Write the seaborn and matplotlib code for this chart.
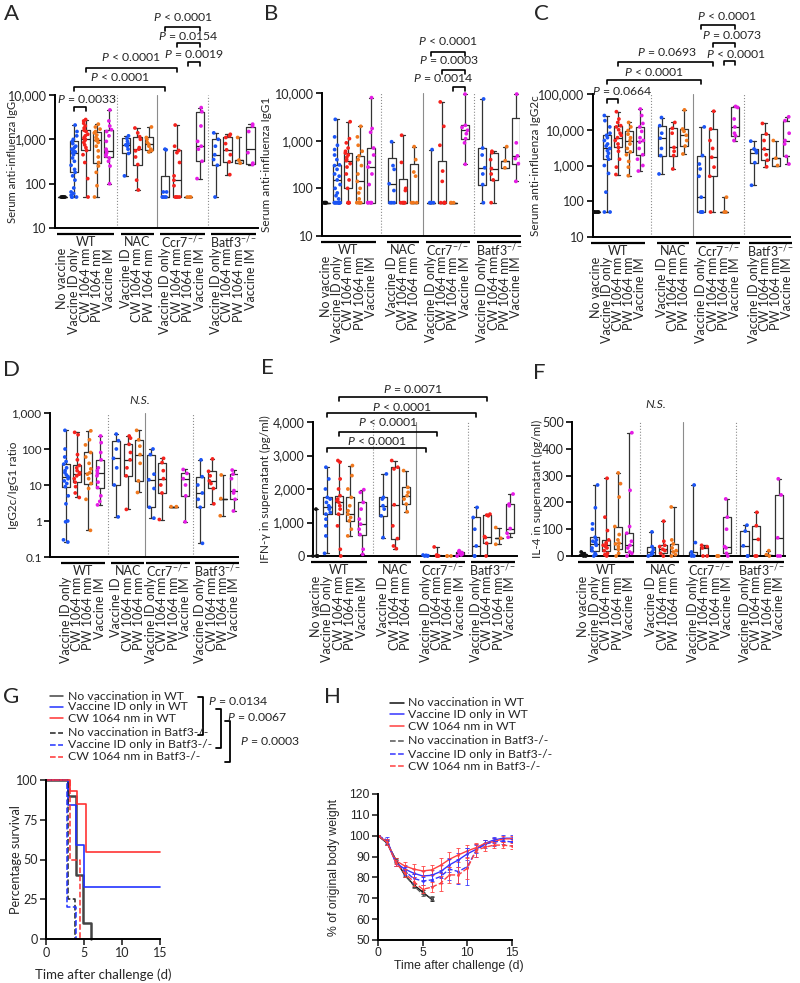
import numpy as np
import pandas as pd
import matplotlib
matplotlib.use("Agg")
import matplotlib.pyplot as plt
import seaborn as sns
from matplotlib.lines import Line2D
from matplotlib.ticker import NullLocator
from matplotlib.transforms import ScaledTranslation

np.random.seed(3)

# ---------------------------------------------------------------
# categories shared by panels A-F
# ---------------------------------------------------------------
cat_labels = ["No vaccine", "Vaccine ID only", "CW 1064 nm", "PW 1064 nm", "Vaccine IM",
              "Vaccine ID", "CW 1064 nm", "PW 1064 nm",
              "Vaccine ID only", "CW 1064 nm", "PW 1064 nm", "Vaccine IM",
              "Vaccine ID only", "CW 1064 nm", "PW 1064 nm", "Vaccine IM"]
cat_kinds = ["none", "id", "cw", "pw", "im", "id", "cw", "pw",
             "id", "cw", "pw", "im", "id", "cw", "pw", "im"]
group_names = ["WT", "NAC", "Ccr7$^{-/-}$", "Batf3$^{-/-}$"]
group_sizes = [5, 3, 4, 4]
group_sizes_d = [4, 3, 4, 4]
kind_colors = {"none": "#111111", "id": "#1b54f5", "cw": "#f5221d",
               "pw": "#f0781e", "im": "#e51be5"}

# ---------------------------------------------------------------
# A: serum anti-influenza IgG
# ---------------------------------------------------------------
a_lo = [50, 50, 50, 50, 100, 150, 72, 520, 50, 50, 50, 130, 50, 160, 290, 270]
a_q1 = [50, 180, 560, 300, 400, 480, 270, 560, 50, 50, 50, 320, 260, 310, 300, 280]
a_med = [50, 500, 1000, 950, 550, 750, 600, 780, 50, 120, 50, 700, 450, 580, 340, 600]
a_q3 = [50, 900, 1600, 1500, 1650, 1050, 1150, 1100, 150, 560, 50, 4200, 1000, 1100, 340, 1900]
a_hi = [50, 2100, 2800, 2200, 4600, 1200, 1800, 1900, 600, 2100, 50, 5200, 1400, 1300, 1100, 2200]
a_pts = [
    [50, 50, 50, 50, 50],
    [50, 50, 50, 55, 60, 65, 80, 120, 150, 180, 210, 260, 320, 380, 450, 500, 520, 550,
     600, 650, 700, 800, 900, 1000, 1200, 1500, 2100],
    [50, 130, 300, 450, 560, 650, 750, 850, 950, 1000, 1050, 1100, 1200, 1300, 1500,
     1600, 1800, 2000, 2300, 2600, 2800],
    [50, 90, 180, 250, 300, 400, 550, 700, 850, 950, 1000, 1100, 1250, 1400, 1500, 1700,
     1900, 2200],
    [100, 250, 320, 380, 420, 450, 500, 550, 600, 900, 1200, 1500, 1650, 2000, 2600, 4600],
    [150, 480, 600, 700, 750, 800, 900, 1050, 1200],
    [72, 120, 270, 400, 550, 600, 650, 1000, 1150, 1400, 1800],
    [520, 560, 600, 700, 780, 850, 1000, 1100, 1900],
    [50, 50, 50, 50, 65, 65, 580, 600],
    [50, 50, 50, 50, 90, 120, 150, 300, 500, 560, 700, 2100],
    [50, 50, 50],
    [130, 320, 600, 700, 900, 2000, 4200, 5200],
    [50, 260, 350, 450, 700, 1000, 1400],
    [160, 310, 450, 580, 800, 1100, 1200, 1300],
    [290, 340, 1100],
    [270, 290, 500, 1500, 2000, 2200],
]

# ---------------------------------------------------------------
# B: serum anti-influenza IgG1
# ---------------------------------------------------------------
b_lo = [50, 50, 50, 50, 50, 50, 50, 50, 50, 50, 50, 320, 50, 50, 270, 140]
b_q1 = [50, 50, 100, 50, 50, 50, 50, 50, 50, 50, 50, 1100, 120, 150, 270, 330]
b_med = [50, 150, 380, 140, 280, 125, 50, 50, 50, 50, 50, 1650, 270, 260, 380, 480]
b_q3 = [50, 310, 550, 480, 700, 440, 160, 330, 50, 370, 50, 2100, 700, 560, 380, 3000]
b_hi = [50, 2800, 2500, 2000, 8000, 950, 1300, 750, 650, 6500, 50, 9500, 7500, 600, 750, 9500]
b_pts = [
    [50, 50, 50, 50, 50],
    [50, 50, 50, 50, 50, 50, 50, 50, 50, 50, 50, 50, 60, 70, 80, 100, 120, 150, 180,
     200, 250, 300, 310, 400, 500, 650, 800, 1200, 2800],
    [50, 50, 50, 50, 100, 150, 200, 280, 330, 380, 400, 450, 500, 550, 600, 700, 900,
     1100, 2500],
    [50, 50, 50, 50, 60, 80, 100, 140, 200, 300, 400, 480, 600, 800, 1200, 2000],
    [50, 50, 50, 50, 50, 120, 200, 280, 350, 500, 700, 1500, 1800, 8000],
    [50, 50, 50, 90, 125, 250, 300, 950],
    [50, 50, 50, 50, 50, 90, 100, 350, 1300],
    [50, 50, 50, 180, 220, 400, 750],
    [50, 50, 50, 50, 650],
    [50, 50, 50, 50, 50, 140, 230, 800, 2000, 6500],
    [50, 50, 50],
    [320, 900, 1100, 1400, 1650, 1900, 2100, 9500],
    [50, 120, 200, 270, 500, 700, 7500],
    [50, 150, 200, 260, 400, 560, 600],
    [270, 380, 750],
    [140, 330, 420, 480, 900, 9500],
]

# ---------------------------------------------------------------
# C: serum anti-influenza IgG2c
# ---------------------------------------------------------------
c_lo = [50, 50, 560, 520, 700, 580, 800, 2100, 50, 50, 50, 5000, 280, 920, 1000, 1100]
c_q1 = [50, 1500, 3200, 2400, 2000, 1900, 1900, 3500, 50, 500, 50, 6800, 1200, 1400, 1000, 1800]
c_med = [50, 3000, 6000, 5000, 5000, 5800, 3200, 7000, 130, 1700, 50, 12000, 2300, 2900, 1600, 5000]
c_q3 = [50, 7000, 13000, 9500, 12000, 13000, 11000, 10500, 1900, 10500, 50, 42000, 2900, 7600,
        1600, 18000]
c_hi = [50, 25000, 32000, 16000, 38000, 22000, 16000, 36000, 12000, 33000, 130, 45000, 4800,
        15000, 5000, 23000]
c_pts = [
    [50, 50, 50, 50, 50],
    [50, 50, 180, 600, 1000, 1500, 1800, 2200, 2600, 3000, 3500, 4000, 5000, 6000, 7000,
     8000, 12000, 18000, 25000],
    [560, 900, 1500, 2500, 3200, 4000, 5000, 6000, 7000, 8000, 10000, 12000, 13000, 16000,
     20000, 32000],
    [520, 900, 1300, 2000, 2400, 3000, 4000, 5000, 6000, 7500, 9500, 12000, 16000],
    [700, 1000, 1500, 2000, 3000, 4500, 5000, 6000, 9000, 12000, 15000, 25000, 38000],
    [580, 1900, 3000, 5800, 8000, 13000, 22000],
    [800, 1900, 2500, 3200, 8000, 11000, 16000],
    [2100, 3500, 5000, 7000, 9000, 10500, 36000],
    [50, 50, 50, 130, 500, 800, 1100, 1900, 12000],
    [50, 500, 900, 1700, 3000, 5000, 10500, 33000],
    [50, 50, 130],
    [5000, 6800, 8000, 12000, 20000, 42000, 45000],
    [280, 1200, 2300, 2600, 2900, 4800],
    [920, 1400, 2000, 2900, 5000, 7600, 15000],
    [1000, 1600, 5000],
    [1100, 1800, 4000, 5000, 8000, 18000, 23000],
]

# ---------------------------------------------------------------
# D: IgG2c / IgG1 ratio (no "No vaccine" group)
# ---------------------------------------------------------------
d_lo = [0.26, 4.5, 0.55, 2.8, 1.3, 2.1, 6.2, 1.2, 1.1, 2.5, 0.95, 0.24, 3, 1.4, 1.9]
d_q1 = [9, 12, 11, 8.5, 10, 18, 13, 2.4, 6, 2.5, 5, 2.4, 8, 4.2, 4]
d_med = [17, 20, 22, 21, 55, 50, 70, 14, 15, 2.5, 15, 6, 13, 4.2, 7]
d_q3 = [38, 35, 80, 50, 170, 135, 180, 70, 42, 2.5, 21, 17, 24, 4.2, 20]
d_hi = [330, 290, 320, 230, 260, 230, 330, 100, 55, 2.5, 27, 50, 53, 19, 26]
d_pts = [
    [0.26, 0.3, 0.95, 1, 3, 5, 9, 11, 13, 15, 17, 19, 22, 25, 30, 38, 45, 60, 100, 330],
    [4.5, 6, 9, 12, 15, 18, 20, 22, 25, 30, 35, 50, 70, 250, 290],
    [0.55, 4, 8, 11, 15, 20, 22, 28, 40, 60, 80, 130, 180, 320],
    [2.8, 3.5, 5, 8.5, 12, 18, 21, 25, 30, 50, 80, 150, 230],
    [1.3, 10, 30, 55, 100, 170, 260],
    [2.1, 18, 30, 50, 80, 135, 200, 230],
    [6.2, 13, 40, 70, 120, 180, 330],
    [1.2, 2.4, 8, 14, 20, 70, 100],
    [1.1, 6, 10, 15, 25, 42, 55],
    [2.5, 2.5],
    [0.95, 5, 10, 15, 21, 27],
    [0.24, 2.4, 4, 6, 10, 17, 50],
    [3, 8, 11, 13, 18, 24, 53],
    [1.4, 4.2, 19],
    [1.9, 4, 6, 7, 15, 20, 26],
]

# ---------------------------------------------------------------
# E: IFN-gamma in supernatant (pg/ml)
# ---------------------------------------------------------------
e_lo = [0, 80, 0, 600, 50, 550, 220, 1320, 0, 0, 0, 0, 0, 0, 350, 560]
e_q1 = [0, 1250, 1250, 1050, 640, 1200, 520, 1550, 0, 0, 0, 30, 0, 380, 530, 680]
e_med = [0, 1450, 1600, 1250, 950, 1500, 1530, 1800, 10, 10, 0, 80, 300, 580, 530, 820]
e_q3 = [0, 1750, 1800, 1750, 1600, 1750, 2650, 2050, 20, 30, 0, 130, 1150, 1220, 530, 1550]
e_hi = [1400, 2650, 2850, 2700, 1980, 2450, 2850, 2550, 30, 270, 0, 160, 1450, 1250, 850, 1850]
e_pts = [
    [0, 0, 0, 0, 1400],
    [80, 600, 900, 1100, 1250, 1300, 1400, 1450, 1500, 1600, 1700, 1750, 2000, 2300, 2650],
    [0, 200, 900, 1250, 1400, 1500, 1600, 1650, 1700, 1800, 2000, 2300, 2800, 2850],
    [600, 800, 1050, 1150, 1250, 1350, 1500, 1750, 2000, 2400, 2700],
    [50, 200, 640, 800, 950, 1100, 1400, 1600, 1900, 1980],
    [550, 1200, 1400, 1500, 1700, 1750, 2450],
    [220, 300, 520, 900, 1530, 2600, 2650, 2850],
    [1320, 1550, 1700, 1800, 1900, 2050, 2550],
    [0, 0, 10, 20, 30],
    [0, 0, 0, 10, 30, 270],
    [0, 0, 0],
    [0, 30, 60, 80, 100, 130, 160],
    [0, 0, 300, 800, 1150, 1450],
    [0, 380, 550, 580, 1200, 1220, 1250],
    [350, 530, 850],
    [560, 680, 820, 1500, 1550, 1850],
]

# ---------------------------------------------------------------
# F: IL-4 in supernatant (pg/ml)
# ---------------------------------------------------------------
f_lo = [0, 0, 0, 0, 0, 0, 0, 0, 0, 0, 0, 0, 0, 0, 0, 0]
f_q1 = [0, 20, 20, 25, 15, 5, 10, 5, 0, 0, 0, 10, 0, 0, 0, 0]
f_med = [3, 45, 40, 48, 40, 15, 25, 20, 5, 30, 0, 35, 38, 62, 5, 68]
f_q3 = [8, 70, 60, 110, 85, 35, 40, 45, 15, 35, 0, 145, 93, 113, 5, 228]
f_hi = [15, 265, 290, 310, 460, 90, 130, 183, 265, 40, 0, 213, 115, 163, 20, 288]
f_pts = [
    [0, 0, 3, 5, 8, 15],
    [0, 5, 10, 20, 30, 40, 45, 50, 55, 60, 70, 100, 120, 180, 265],
    [0, 5, 10, 20, 30, 35, 40, 45, 50, 60, 95, 145, 290],
    [0, 10, 25, 35, 45, 48, 60, 80, 110, 220, 270, 310],
    [0, 10, 15, 30, 40, 55, 85, 110, 245, 460],
    [0, 5, 10, 15, 25, 35, 90],
    [0, 10, 20, 25, 35, 40, 55, 130],
    [0, 5, 15, 20, 30, 45, 60, 183],
    [0, 0, 5, 15, 50, 265],
    [0, 0, 30, 35, 40],
    [0, 0, 0],
    [0, 10, 30, 35, 100, 145, 213],
    [0, 0, 38, 93, 115],
    [0, 0, 62, 113, 163],
    [0, 5, 20],
    [0, 0, 68, 228, 288],
]

# ---------------------------------------------------------------
# G: survival (Kaplan-Meier steps)
# ---------------------------------------------------------------
g_t_nv_wt = [0, 2.95, 3.95, 4.9, 5.9]
g_s_nv_wt = [100, 90, 40, 10, 0]
g_t_id_wt = [0, 2.85, 3.95, 5.0, 15]
g_s_id_wt = [100, 84, 59, 33, 33]
g_t_cw_wt = [0, 3.15, 4.1, 5.25, 15]
g_s_cw_wt = [100, 93, 85, 55, 55]
g_t_nv_b = [0, 2.95, 3.85]
g_s_nv_b = [100, 25, 0]
g_t_id_b = [0, 2.8, 3.95]
g_s_id_b = [100, 20, 0]
g_t_cw_b = [0, 3.15, 4.45]
g_s_cw_b = [100, 50, 0]

# ---------------------------------------------------------------
# H: body weight (% of original), mean and error
# ---------------------------------------------------------------
h_days_short = [0, 1, 2, 3, 4, 5, 6]
h_days = list(range(16))
h_nv_wt = [100, 96.5, 88.5, 81, 76.5, 73, 69.5]
h_nv_wt_err = [0.3, 1, 1, 1, 1, 1, 1]
h_nv_b = [100, 97, 88, 81.5, 76, 72, 70]
h_nv_b_err = [0.3, 1, 1, 1, 1, 1, 1]
h_id_wt = [100, 97, 87, 84, 82, 80.7, 81, 82.8, 86, 88.4, 91.3, 93.5, 96.4, 98, 98.8, 98.8]
h_id_wt_err = [0.3, 1.5, 1.5, 2, 2, 2.5, 2.5, 3, 3.5, 3.5, 3, 2, 1.5, 1.5, 1.5, 1.5]
h_cw_wt = [100, 97, 88, 85.5, 84, 83.1, 83.6, 85.8, 88.7, 90.8, 92.7, 94.3, 96.4, 97.2, 98.5, 98.5]
h_cw_wt_err = [0.3, 1, 1.5, 2, 2.5, 2.5, 2.5, 3.5, 3.5, 3.5, 3, 2, 1.5, 1.5, 1.5, 1.5]
h_id_b = [100, 98, 87, 83, 79.5, 78.3, 78.8, 80.4, 84, 82.8, 85.2, 93, 96, 97, 97.5, 97]
h_id_b_err = [0.3, 1.5, 1.5, 2, 2, 2, 3, 3, 5, 6, 9, 3, 2, 2, 1.5, 1.5]
h_cw_b = [100, 97, 87, 82, 78, 74.3, 75.3, 77.2, 81.2, 81.2, 84.4, 93, 94.5, 95.5, 95.5, 95]
h_cw_b_err = [0.3, 1.5, 1.5, 2, 2, 2, 2.5, 3.5, 4, 4, 5, 3, 2, 1.5, 1.5, 1.5]

legend_labels = ["No vaccination in WT", "Vaccine ID only in WT", "CW 1064 nm in WT",
                 "No vaccination in Batf3-/-", "Vaccine ID only in Batf3-/-",
                 "CW 1064 nm in Batf3-/-"]

# ---------------------------------------------------------------
# style
# ---------------------------------------------------------------
sns.set_style("ticks")
plt.rcParams["font.family"] = ["Lato", "DejaVu Sans"]
plt.rcParams["mathtext.fontset"] = "custom"
plt.rcParams["mathtext.rm"] = "Lato"
plt.rcParams["mathtext.it"] = "Lato:italic"
plt.rcParams["axes.linewidth"] = 1.4
plt.rcParams["axes.edgecolor"] = "black"

TICK_FS = 9
CAT_FS = 9
LAB_FS = 8.5
P_FS = 8.8

W, H = 800, 983
fig = plt.figure(figsize=(8, 9.83), dpi=100)


def rect(l, r, t, b):
    return [l / W, 1 - b / H, (r - l) / W, (b - t) / H]


def fpt(x, y):
    return x / W, 1 - y / H


def below(ax, px):
    return ax.get_xaxis_transform() + ScaledTranslation(0, -px / 100, fig.dpi_scale_trans)


def group_positions(sizes, gaps):
    out, x = [], 0.0
    for s, gap in zip(sizes, gaps + [0]):
        out.append([x + i for i in range(s)])
        x += s - 1 + gap
    return out


def box_panel(ax, pts, lo, q1, med, q3, hi, sizes, gaps, kinds, labels, xlim, log,
              tick_fs=TICK_FS):
    groups = group_positions(sizes, gaps)
    pos = [p for g in groups for p in g]
    if log:
        ax.set_yscale("log")
    stats = [dict(whislo=a, q1=b, med=c, q3=d, whishi=e)
             for a, b, c, d, e in zip(lo, q1, med, q3, hi)]
    line = dict(color="#333333", lw=0.9)
    ax.bxp(stats, positions=pos, widths=0.72, capwidths=0.36, showfliers=False,
           manage_ticks=False, boxprops=line, whiskerprops=line, capprops=line,
           medianprops=dict(color="#222222", lw=0.9))
    df = pd.DataFrame({
        "pos": [p for p, v in zip(pos, pts) for _ in v],
        "val": [x for v in pts for x in v],
        "kind": [k for k, v in zip(kinds, pts) for _ in v],
    })
    sns.stripplot(data=df, x="pos", y="val", hue="kind", palette=kind_colors,
                  native_scale=True, jitter=0.27, size=2.7, linewidth=0,
                  legend=False, ax=ax, zorder=3, clip_on=False)
    ax.set_xlim(*xlim)
    ax.set_xlabel("")
    ax.set_xticks([])
    sns.despine(ax=ax)
    ax.tick_params(axis="y", length=4, width=1.2, labelsize=tick_fs, pad=2, color="black")
    ax.yaxis.set_minor_locator(NullLocator())
    # dividers between genotype groups
    for k, style in enumerate([":", "-", ":"]):
        mid = (groups[k][-1] + groups[k + 1][0]) / 2
        ax.axvline(mid, color="#8c8c8c", lw=0.8, ls=style, zorder=1)
    # group underline, group name, category labels
    for g, name in zip(groups, group_names):
        ax.plot([g[0] - 0.45, g[-1] + 0.45], [0, 0], color="black", lw=1.6,
                transform=below(ax, 6), clip_on=False, solid_capstyle="butt")
        ax.text((g[0] + g[-1]) / 2, 0, name, transform=below(ax, 14), ha="center",
                va="center", fontsize=CAT_FS)
    for p, lab in zip(pos, labels):
        ax.text(p, 0, lab, transform=below(ax, 20), rotation=90, ha="center", va="top",
                fontsize=CAT_FS)
    return pos


def bracket(ax, pos, i, j, y, ty, text, tick, tx=None):
    tr = ax.get_xaxis_transform()
    ax.plot([pos[i], pos[i], pos[j], pos[j]], [y - tick, y, y, y - tick], color="black",
            lw=1.2, transform=tr, clip_on=False)
    if tx is None:
        tx = (pos[i] + pos[j]) / 2
    ax.text(tx, ty, text, transform=tr, ha="center", va="center", fontsize=P_FS)


def ylabel_at(ax, text, right_px, axis_px, width_px, size=LAB_FS):
    ax.set_ylabel(text, fontsize=size)
    ax.yaxis.set_label_coords(-(axis_px - right_px) / width_px, 0.5)


log_ticks = [10, 100, 1000, 10000]
log_tick_labels = ["10", "100", "1,000", "10,000"]

# ---- A ----
axA = fig.add_axes(rect(55, 258, 95, 228))
posA = box_panel(axA, a_pts, a_lo, a_q1, a_med, a_q3, a_hi, group_sizes, [1.5, 1.4, 1.4],
                 cat_kinds, cat_labels, (-0.65, 16.95), True)
axA.set_ylim(10, 10000)
axA.set_yticks(log_ticks, log_tick_labels)
ylabel_at(axA, "Serum anti-influenza IgG", 18, 55, 203, size=8.1)
tA = 4 / 133
bracket(axA, posA, 1, 2, 0.91, 0.97, "$P$ = 0.0033", tA, tx=2.1)
bracket(axA, posA, 1, 8, 1.06, 1.135, "$P$ < 0.0001", tA)
bracket(axA, posA, 2, 9, 1.20, 1.286, "$P$ < 0.0001", tA)
bracket(axA, posA, 10, 11, 1.248, 1.308, "$P$ = 0.0019", tA)
bracket(axA, posA, 9, 11, 1.39, 1.444, "$P$ = 0.0154", tA)
bracket(axA, posA, 8, 11, 1.51, 1.586, "$P$ < 0.0001", tA)

# ---- B ----
axB = fig.add_axes(rect(322, 520, 93, 236))
posB = box_panel(axB, b_pts, b_lo, b_q1, b_med, b_q3, b_hi, group_sizes, [1.9, 1.5, 1.6],
                 cat_kinds, cat_labels, (-0.36, 17.36), True)
axB.set_ylim(10, 10000)
axB.set_yticks(log_ticks, log_tick_labels)
ylabel_at(axB, "Serum anti-influenza IgG1", 272, 322, 198)
tB = 4 / 143
bracket(axB, posB, 10, 11, 1.042, 1.105, "$P$ = 0.0014", tB, tx=10.5)
bracket(axB, posB, 9, 11, 1.161, 1.231, "$P$ = 0.0003", tB, tx=11.0)
bracket(axB, posB, 8, 11, 1.287, 1.364, "$P$ < 0.0001", tB, tx=10.9)

# ---- C ----
axC = fig.add_axes(rect(593, 790, 94, 237))
posC = box_panel(axC, c_pts, c_lo, c_q1, c_med, c_q3, c_hi, group_sizes, [1.9, 1.6, 1.7],
                 cat_kinds, cat_labels, (-0.27, 17.47), True)
axC.set_ylim(10, 100000)
axC.set_yticks(log_ticks + [100000], log_tick_labels + ["100,000"])
ylabel_at(axC, "Serum anti-influenza IgG2c", 541, 593, 197)
tC = 4 / 143
bracket(axC, posC, 1, 2, 0.965, 1.02, "$P$ = 0.0664", tC, tx=2.4)
bracket(axC, posC, 1, 8, 1.098, 1.154, "$P$ < 0.0001", tC)
bracket(axC, posC, 2, 9, 1.224, 1.294, "$P$ = 0.0693", tC, tx=6.4)
bracket(axC, posC, 10, 11, 1.231, 1.28, "$P$ < 0.0001", tC, tx=12.6)
bracket(axC, posC, 9, 11, 1.357, 1.41, "$P$ = 0.0073", tC, tx=12.2)
bracket(axC, posC, 8, 11, 1.483, 1.545, "$P$ < 0.0001", tC, tx=11.8)

# ---- D ----
axD = fig.add_axes(rect(50, 238, 413, 557))
posD = box_panel(axD, d_pts, d_lo, d_q1, d_med, d_q3, d_hi, group_sizes_d, [1.5, 1.1, 1.4],
                 cat_kinds[1:], cat_labels[1:], (-1.43, 15.36), True, tick_fs=8.5)
axD.set_ylim(0.1, 1000)
axD.set_yticks([0.1, 1, 10, 100, 1000], ["0.1", "1", "10", "100", "1,000"])
ylabel_at(axD, "IgG2c/IgG1 ratio", 19, 50, 188)
axD.text(6.6, 1.09, "N.S.", transform=axD.get_xaxis_transform(), ha="center", va="center",
         fontsize=P_FS, fontstyle="italic")

# ---- E ----
axE = fig.add_axes(rect(313, 517, 422, 556))
posE = box_panel(axE, e_pts, e_lo, e_q1, e_med, e_q3, e_hi, group_sizes, [1.9, 1.7, 1.4],
                 cat_kinds, cat_labels, (-0.26, 17.6), False)
axE.set_ylim(0, 4000)
axE.set_yticks([0, 1000, 2000, 3000, 4000], ["0", "1,000", "2,000", "3,000", "4,000"])
ylabel_at(axE, "IFN-γ in supernatant (pg/ml)", 271, 313, 204)
tE = 4 / 134
bracket(axE, posE, 1, 8, 0.806, 0.858, "$P$ < 0.0001", tE)
bracket(axE, posE, 2, 9, 0.925, 1.0, "$P$ < 0.0001", tE)
bracket(axE, posE, 1, 12, 1.067, 1.115, "$P$ < 0.0001", tE)
bracket(axE, posE, 2, 13, 1.187, 1.246, "$P$ = 0.0071", tE)

# ---- F ----
axF = fig.add_axes(rect(572, 785, 422, 556))
posF = box_panel(axF, f_pts, f_lo, f_q1, f_med, f_q3, f_hi, group_sizes, [1.9, 1.6, 1.5],
                 cat_kinds, cat_labels, (-0.96, 17.5), False)
axF.set_ylim(0, 500)
axF.set_yticks([0, 100, 200, 300, 400, 500])
ylabel_at(axF, "IL-4 in supernatant (pg/ml)", 543, 572, 213)
axF.text(6.26, 1.134, "N.S.", transform=axF.get_xaxis_transform(), ha="center", va="center",
         fontsize=P_FS, fontstyle="italic")

# ---- G: survival ----
axG = fig.add_axes(rect(46, 160, 780, 939))
g_series = [
    (g_t_nv_wt, g_s_nv_wt, "#444444", "-", 1.8),
    (g_t_id_wt, g_s_id_wt, "#2233ff", "-", 1.2),
    (g_t_cw_wt, g_s_cw_wt, "#ff3333", "-", 1.2),
    (g_t_nv_b, g_s_nv_b, "#222222", "--", 1.1),
    (g_t_id_b, g_s_id_b, "#2233ff", "--", 1.1),
    (g_t_cw_b, g_s_cw_b, "#ff3333", "--", 1.1),
]
for t, s, col, ls, lw in g_series:
    sns.lineplot(x=t, y=s, color=col, linestyle=ls, lw=lw, drawstyle="steps-post",
                 ax=axG, clip_on=False)
axG.set_xlim(0, 15)
axG.set_ylim(0, 100)
axG.set_xticks([0, 5, 10, 15])
axG.set_yticks([0, 25, 50, 75, 100])
sns.despine(ax=axG)
axG.tick_params(length=4, width=1.2, labelsize=TICK_FS, pad=2)
axG.set_xlabel("Time after challenge (d)", fontsize=9.5)
axG.xaxis.set_label_coords(0.5, -29 / 159)
ylabel_at(axG, "Percentage survival", 22, 46, 114, size=9.2)

# legend G
g_rows = [696, 707, 718, 733, 745, 757]
for (t, s, col, ls, lw), lab, y in zip(g_series, legend_labels, g_rows):
    x0, y0 = fpt(50, y)
    x1, _ = fpt(63, y)
    fig.add_artist(Line2D([x0, x1], [y0, y0], color=col, ls=ls, lw=1.1))
    fig.text(*fpt(68, y), lab, fontsize=8.8, va="center", ha="left")
for x, top, bot, tx, ty, txt in [(203, 697, 735, 208, 701, "$P$ = 0.0134"),
                                 (221, 709, 748, 227, 717, "$P$ = 0.0067"),
                                 (230, 721, 762, 240, 741, "$P$ = 0.0003")]:
    xs = [fpt(x - 5, 0)[0], fpt(x, 0)[0], fpt(x, 0)[0], fpt(x - 5, 0)[0]]
    ys = [fpt(0, top)[1], fpt(0, top)[1], fpt(0, bot)[1], fpt(0, bot)[1]]
    fig.add_artist(Line2D(xs, ys, color="black", lw=1.3))
    fig.text(*fpt(tx, ty), txt, fontsize=P_FS, va="center", ha="left")

# ---- H: body weight ----
axH = fig.add_axes(rect(378, 512, 794, 940))
h_series = [
    (h_days_short, h_nv_wt, h_nv_wt_err, "#111111", "-"),
    (h_days, h_id_wt, h_id_wt_err, "#3535ff", "-"),
    (h_days, h_cw_wt, h_cw_wt_err, "#ff4040", "-"),
    (h_days_short, h_nv_b, h_nv_b_err, "#555555", "--"),
    (h_days, h_id_b, h_id_b_err, "#3535ff", "--"),
    (h_days, h_cw_b, h_cw_b_err, "#ff4040", "--"),
]
for d, m, e, col, ls in h_series:
    axH.errorbar(d, m, yerr=e, fmt="none", ecolor=col, elinewidth=0.7, capsize=1.5,
                 capthick=0.7, alpha=0.85)
    sns.lineplot(x=d, y=m, color=col, linestyle=ls, lw=1.0, marker="o", markersize=2,
                 markeredgewidth=0, ax=axH)
axH.set_xlim(0, 15)
axH.set_ylim(50, 120)
axH.set_xticks([0, 5, 10, 15])
axH.set_yticks(range(50, 121, 10))
sns.despine(ax=axH)
axH.tick_params(length=4, width=1.2, labelsize=8.8, pad=2)
axH.tick_params(axis="x", pad=1)
for lab in axH.get_xticklabels() + axH.get_yticklabels():
    lab.set_family("Liberation Sans")
axH.set_xlabel("Time after challenge (d)", fontsize=8.8, family="Liberation Sans")
axH.xaxis.set_label_coords(0.6, -20 / 146)
ylabel_at(axH, "% of original body weight", 340, 378, 134, size=8.8)
axH.yaxis.label.set_family("Liberation Sans")

h_rows = [703, 714, 726, 741, 754, 766]
for (d, m, e, col, ls), lab, y in zip(h_series, legend_labels, h_rows):
    x0, y0 = fpt(390, y)
    x1, _ = fpt(404, y)
    fig.add_artist(Line2D([x0, x1], [y0, y0], color=col, ls=ls, lw=1.1))
    fig.text(*fpt(408, y), lab, fontsize=8.8, va="center", ha="left")

# ---- panel letters ----
for letter, x, y in [("A", 4, 14), ("B", 264, 14), ("C", 534, 14), ("D", 3, 370),
                     ("E", 261, 368), ("F", 533, 373), ("G", 3, 697), ("H", 324, 697)]:
    fig.text(*fpt(x, y), letter, fontsize=16, ha="left", va="center")

fig.savefig("out.png", dpi=100)
